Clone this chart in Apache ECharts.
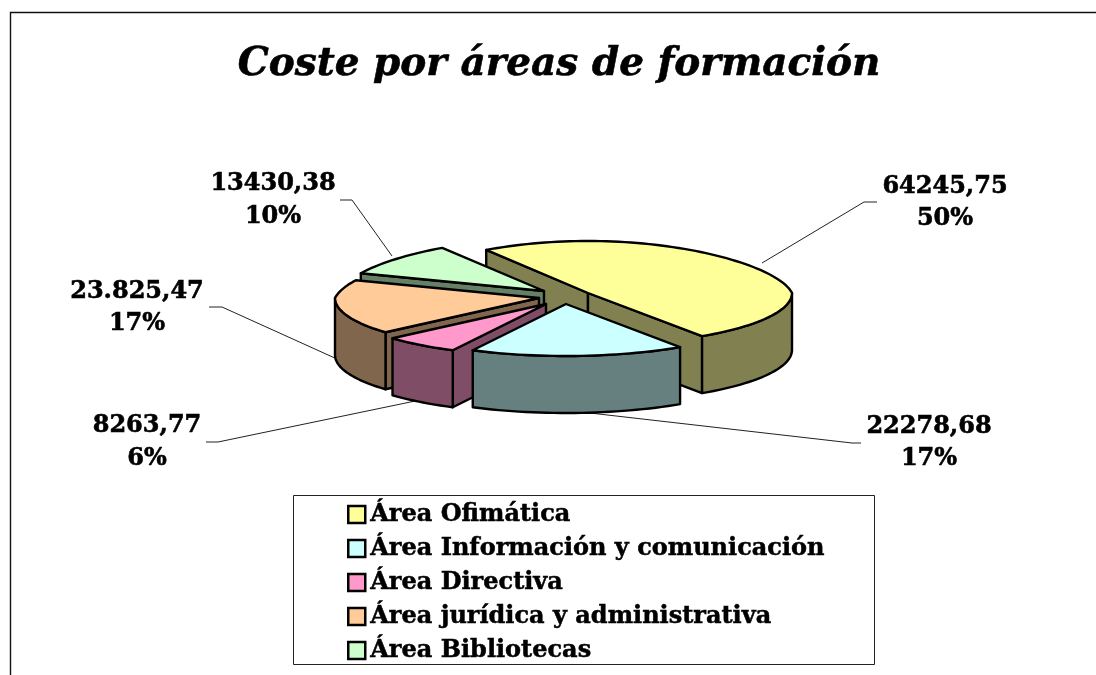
<!DOCTYPE html>
<html><head><meta charset="utf-8">
<style>html,body{margin:0;padding:0;background:#fff}#c{width:1096px;height:675px}</style>
<script src="https://cdn.jsdelivr.net/npm/echarts@6/dist/echarts.min.js"></script>
</head><body><div id="c"></div>
<script>
const chartTitle = 'Coste por áreas de formación';
const categories = ['Área Ofimática','Área Información y comunicación','Área Directiva','Área jurídica y administrativa','Área Bibliotecas'];
const valueLabels = ['64245,75','22278,68','8263,77','23.825,47','13430,38'];
const percents = [50,17,6,17,10];
const topColors = ['#FFFF99','#CCFFFF','#FF99CC','#FFCC99','#CCFFCC'];
const wallColors = ['#808050','#668080','#804D66','#80664D','#668066'];
const apexes = [[588,293],[566,304],[546,304],[539,298],[544,291]];
const drawOrder = [0,4,3,2,1];
const labelPos = [[945,187,219],[929,427,459],[147,426,459],[137,292,324],[273,184,217]];
const leaders = [
  [[877,202],[864,202],[762,263]],
  [[861,443],[852,443],[590,413]],
  [[206,442],[218,442],[420,400]],
  [[209,307],[222,307],[337,359]],
  [[340,200],[352,200],[392,256]]
];
const START = 236, RX = 204, RY = 52, DEPTH = 57, BACK = 0.13;
const total = percents.reduce((a,b)=>a+b,0);
function rim(apex,deg,drop){
  const t = deg*Math.PI/180, u=Math.cos(t), v=Math.sin(t);
  return [apex[0]+RX*u*(1+BACK*Math.min(v,0)), apex[1]+RY*v+(drop||0)];
}
function arc(apex,a,b,drop){
  const n=Math.max(2,Math.ceil(Math.abs(b-a)/2)), p=[];
  for(let i=0;i<=n;i++) p.push(rim(apex,a+(b-a)*i/n,drop));
  return p;
}
function poly(points,fill){
  return {type:'polygon',shape:{points},style:{fill,stroke:'#000',lineWidth:2.4,lineJoin:'round'}};
}
function renderer(idx){
  return function(params,api){
    const pct = api.value(0);
    let before = 0; for(let i=0;i<idx;i++) before+=percents[i];
    const a = START+before/total*360, b = a+pct/total*360;
    const apex = apexes[idx], wall = wallColors[idx], top = topColors[idx];
    const down = p=>[p[0],p[1]+DEPTH];
    const rad = d=>d*Math.PI/180;
    const children = [];
    const pa = rim(apex,a), pb = rim(apex,b);
    if(Math.cos(rad(a))<0) children.push(poly([apex,pa,down(pa),down(apex)],wall));
    if(Math.cos(rad(b))>0) children.push(poly([apex,pb,down(pb),down(apex)],wall));
    for(let k=0;k<2;k++){
      const lo=Math.max(a,k*360), hi=Math.min(b,k*360+180);
      if(hi>lo){
        children.push(poly(arc(apex,lo,hi).concat(arc(apex,hi,lo,DEPTH)),wall));
      }
    }
    children.push(poly([apex].concat(arc(apex,a,b)),top));
    return {type:'group',children};
  };
}
const series = drawOrder.map((i,pos)=>({
  type:'custom',name:categories[i],coordinateSystem:'none',z:5+pos,
  silent:true,animation:false,
  itemStyle:{color:topColors[i]},
  data:[[percents[i]]],
  renderItem:renderer(i)
}));
const SERIF = '"DejaVu Serif"';
const graphics = [
  {type:'polyline',shape:{points:[[10.5,675],[10.5,12.5],[1096,12.5]]},style:{stroke:'#111',lineWidth:1.4,fill:null},z:1},
  {type:'rect',shape:{x:293.5,y:495.5,width:581,height:169},style:{fill:'#fff',stroke:'#222',lineWidth:1},z:1}
];
leaders.forEach(points=>graphics.push({type:'polyline',shape:{points},style:{stroke:'#222',lineWidth:1,fill:null},z:1}));
labelPos.forEach((p,i)=>{
  [[valueLabels[i],p[1]],[percents[i]+'%',p[2]]].forEach(([text,y])=>{
    graphics.push({type:'text',x:p[0],y,z:20,style:{text,fill:'#000',stroke:'#000',lineWidth:0.6,font:'bold 24px '+SERIF,align:'center',verticalAlign:'middle'}});
  });
});
const chart = echarts.init(document.getElementById('c'),null,{renderer:'canvas'});
chart.setOption({
  animation:false,
  backgroundColor:'#fff',
  title:{text:chartTitle,left:554,top:40,textAlign:'center',textStyle:{fontFamily:SERIF,fontWeight:'bold',fontStyle:'italic',fontSize:39,color:'#000',textBorderColor:'#000',textBorderWidth:0.6}},
  legend:{
    orient:'vertical',left:347,top:502,padding:0,itemGap:9,itemWidth:17,itemHeight:17,
    data:categories,selectedMode:false,icon:'rect',
    itemStyle:{borderColor:'#000',borderWidth:2.5},
    textStyle:{fontFamily:SERIF,fontWeight:'bold',fontSize:24,color:'#000',lineHeight:25,textBorderColor:'#000',textBorderWidth:0.5}
  },
  graphic:{elements:graphics},
  series
});
</script></body></html>
